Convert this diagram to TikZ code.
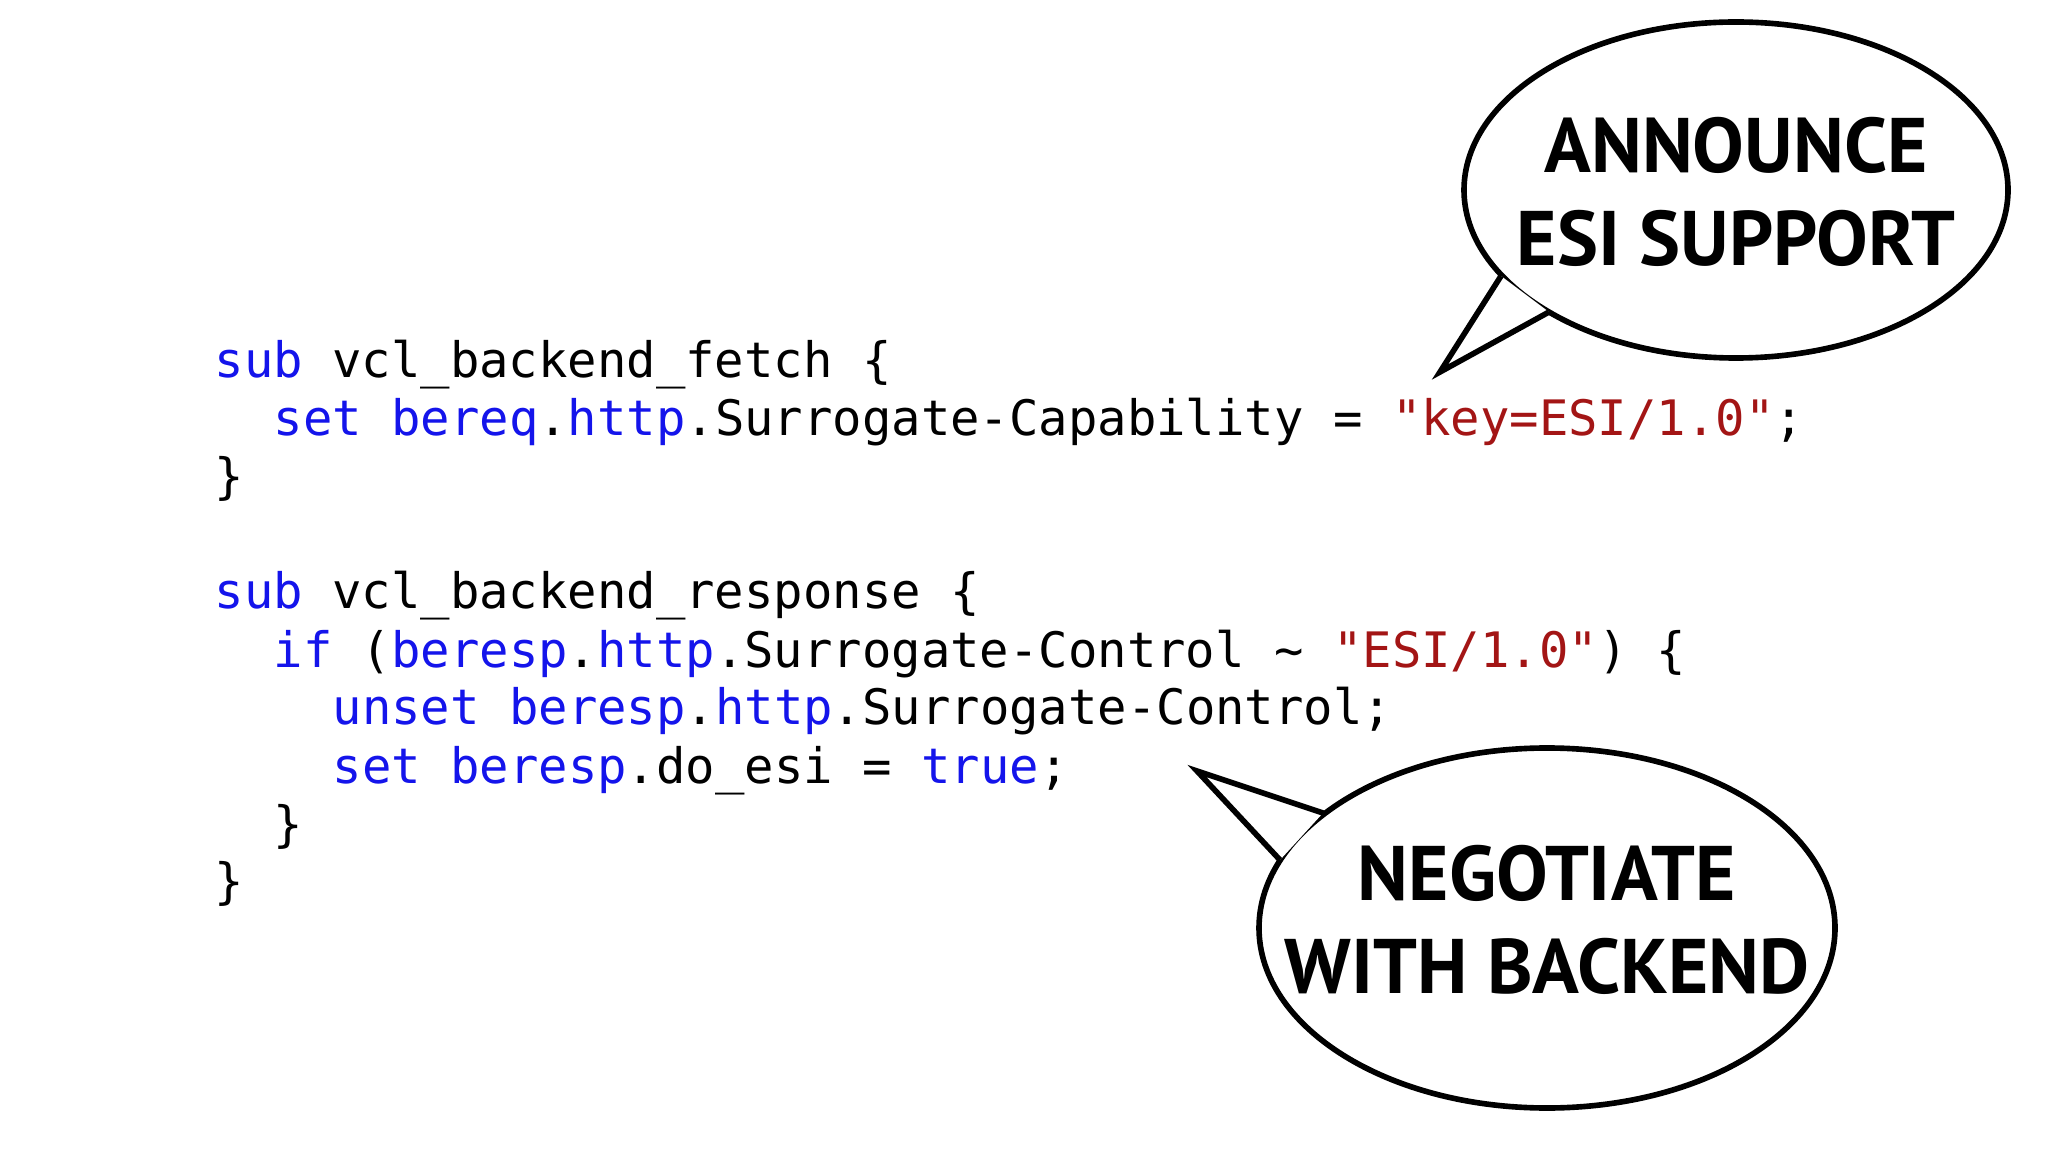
\documentclass[tikz,border=0pt]{standalone}
\usepackage{fontspec}
\newfontfamily\codefont{DejaVu Sans Mono}
\newfontfamily\bubfont{PT Sans Bold}
\definecolor{kw}{RGB}{20,20,235}
\definecolor{st}{RGB}{163,21,21}
\newcommand{\kw}[1]{\textcolor{kw}{#1}}
\newcommand{\st}[1]{\textcolor{st}{#1}}
\tikzset{codeline/.style={anchor=base west,inner sep=0pt,font=\codefont\fontsize{13.9}{16}\selectfont},
bub/.style={line width=1.6pt},
bubtext/.style={align=center,font=\bubfont\fontsize{22}{26.5}\selectfont}}
\begin{document}
\begin{tikzpicture}[x=0.01cm,y=-0.01cm]
\useasboundingbox[fill=white] (0,0) rectangle (2048,1152);
\def\cx{214}\def\ch{29.5}
\node[codeline] (l1) at (\cx,378) {\kw{sub} vcl\_backend\_fetch \{};
\node[codeline] (l2) at (\cx+2*\ch,436) {\kw{set} \kw{bereq}.\kw{http}.Surrogate-Capability = \st{"key=ESI/1.0"};};
\node[codeline] (l3) at (\cx,494) {\}};
\node[codeline] (l5) at (\cx,609) {\kw{sub} vcl\_backend\_response \{};
\node[codeline] (l6) at (\cx+2*\ch,667) {\kw{if} (\kw{beresp}.\kw{http}.Surrogate-Control \char`\~{} \st{"ESI/1.0"}) \{};
\node[codeline] (l7) at (\cx+4*\ch,725) {\kw{unset} \kw{beresp}.\kw{http}.Surrogate-Control;};
\node[codeline] (l8) at (\cx+4*\ch,783) {\kw{set} \kw{beresp}.do\_esi = \kw{true};};
\node[codeline] (l9) at (\cx+2*\ch,841) {\}};
\node[codeline] (l10) at (\cx,898) {\}};
% top bubble
\draw[bub] (1736,190) ellipse [x radius=272, y radius=168];
\coordinate (t1) at (1501,276); \coordinate (tt) at (1440,372); \coordinate (t2) at (1549,312);
\fill[white] (t1) -- (tt) -- (t2) -- cycle;
\draw[bub,line join=miter] (t1) -- (tt) -- (t2);
\node[bubtext] (b1) at (1736,192) {ANNOUNCE\\ESI SUPPORT};
% bottom bubble
\draw[bub] (1547,928) ellipse [x radius=288, y radius=180];
\coordinate (s1) at (1280,860); \coordinate (st) at (1197,771); \coordinate (s2) at (1323,813);
\fill[white] (s1) -- (st) -- (s2) -- cycle;
\draw[bub,line join=miter] (s1) -- (st) -- (s2);
\node[bubtext] (b2) at (1547,920) {NEGOTIATE\\WITH BACKEND};
\end{tikzpicture}
\end{document}
